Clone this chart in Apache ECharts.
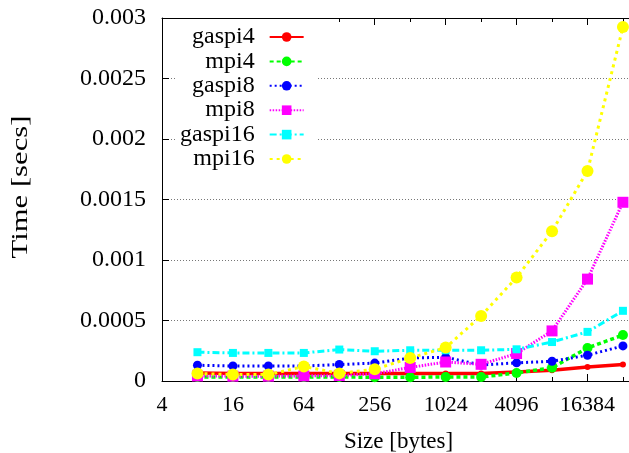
<!DOCTYPE html>
<html><head><meta charset="utf-8">
<script src="https://cdn.jsdelivr.net/npm/echarts@6/dist/echarts.min.js"></script>
<style>html,body{margin:0;padding:0;background:#fff}#c{width:629px;height:453px}</style>
</head><body><div id="c"></div>
<script>
// ---- data ----
const sizes = [8, 16, 32, 64, 128, 256, 512, 1024, 2048, 4096, 8192, 16384, 32768];
const xMajorTicks = [4, 16, 64, 256, 1024, 4096, 16384];
const xMinorTicks = [4, 8, 16, 32, 64, 128, 256, 512, 1024, 2048, 4096, 8192, 16384, 32768];
const seriesNames = ['gaspi4', 'mpi4', 'gaspi8', 'mpi8', 'gaspi16', 'mpi16'];
const gaspi4  = [0.000066, 0.000063, 0.000063, 0.000063, 0.000061, 0.000061, 0.000061, 0.000061, 0.000061, 0.000075, 0.000089, 0.000116, 0.000136];
const mpi4    = [0.000033, 0.000033, 0.000033, 0.000033, 0.000033, 0.000031, 0.000031, 0.000033, 0.000033, 0.000066, 0.000110, 0.000273, 0.000380];
const gaspi8  = [0.000130, 0.000124, 0.000124, 0.000124, 0.000136, 0.000148, 0.000190, 0.000196, 0.000132, 0.000150, 0.000163, 0.000213, 0.000290];
const mpi8    = [0.000042, 0.000040, 0.000040, 0.000042, 0.000045, 0.000060, 0.000112, 0.000157, 0.000138, 0.000227, 0.000414, 0.000842, 0.001477];
const gaspi16 = [0.000238, 0.000232, 0.000232, 0.000232, 0.000260, 0.000246, 0.000254, 0.000254, 0.000254, 0.000262, 0.000322, 0.000406, 0.000580];
const mpi16   = [0.000062, 0.000053, 0.000053, 0.000120, 0.000063, 0.000097, 0.000190, 0.000276, 0.000538, 0.000856, 0.001237, 0.001736, 0.002926];

const FONT = '"Liberation Serif", "DejaVu Serif", serif';
const colors = ['#ff0000', '#00ff00', '#0000ff', '#ff00ff', '#00ffff', '#ffff00'];
const values = [gaspi4, mpi4, gaspi8, mpi8, gaspi16, mpi16];
const symbols = ['circle', 'circle', 'circle', 'rect', 'rect', 'circle'];
const symbolSizes = [6, 10, 9, 11, 8, 12];
const dashes = ['solid', [4, 3], [2, 3], [1.5, 1.5], [7, 3, 2, 3], [3, 4]];
const widths = [3.5, 3.5, 3, 3, 3, 3];
const X_MAX = Math.pow(2, 15.34); // plot area runs past the right edge of the picture

const chart = echarts.init(document.getElementById('c'), null, {renderer: 'canvas'});

function xAxisBase(pos, ticks, len, withLabels, showLine) {
  return {
    type: 'log', logBase: 2, min: 4, max: X_MAX, position: pos,
    axisLine: {show: showLine, onZero: false, lineStyle: {color: '#000', width: 1}},
    axisTick: {show: true, inside: true, length: len, customValues: ticks, lineStyle: {color: '#000', width: 1}},
    axisLabel: withLabels ? {show: true, customValues: xMajorTicks, fontFamily: FONT, fontSize: 22, color: '#000', margin: 13, formatter: v => String(v)} : {show: false},
    splitLine: {show: false}, minorTick: {show: false}
  };
}
const xAxes = [
  Object.assign(xAxisBase('bottom', xMajorTicks, 7, true, true), {
    name: 'Size [bytes]', nameLocation: 'middle', nameGap: 49,
    nameTextStyle: {fontFamily: FONT, fontSize: 23, color: '#000'}
  }),
  xAxisBase('top', xMajorTicks, 7, false, true),
  xAxisBase('bottom', xMinorTicks, 4, false, false),
  xAxisBase('top', xMinorTicks, 4, false, false)
];

const series = seriesNames.map((name, i) => ({
  name: name, type: 'line', xAxisIndex: 0, yAxisIndex: 0,
  data: sizes.map((s, j) => [s, values[i][j]]),
  symbol: symbols[i], symbolSize: symbolSizes[i], showSymbol: true,
  lineStyle: {color: colors[i], width: widths[i], type: dashes[i]},
  itemStyle: {color: colors[i]},
  z: 2 + i, animation: false
}));

chart.setOption({
  animation: false,
  backgroundColor: '#fff',
  grid: {left: 162, right: -6, top: 18, bottom: 72, containLabel: false, outerBoundsMode: 'none'},
  legend: {
    orient: 'vertical', left: 175, top: 19, align: 'right',
    itemWidth: 34, itemHeight: 12, itemGap: 0.4,
    backgroundColor: '#fff', padding: [6, 13, 6, 5],
    textStyle: {fontFamily: FONT, fontSize: 24, color: '#000', lineHeight: 24, padding: [0, 10, 0, 0]},
    data: seriesNames
  },
  graphic: [{
    type: 'text', x: 21, y: 187, rotation: Math.PI / 2, scaleX: 1.28, scaleY: 1,
    style: {text: 'Time [secs]', font: '24px "Liberation Serif", serif', fill: '#000', align: 'center', verticalAlign: 'middle'}
  }],
  xAxis: xAxes,
  yAxis: [
    {
      type: 'value', min: 0, max: 0.003, interval: 0.0005, position: 'left',
      axisLine: {show: true, lineStyle: {color: '#000', width: 1}},
      axisTick: {show: true, inside: true, length: 7, lineStyle: {color: '#000'}},
      axisLabel: {fontFamily: FONT, fontSize: 24, color: '#000', margin: 16},
      splitLine: {show: true, lineStyle: {color: '#777', width: 1, type: [1, 2]}}
    }
  ],
  series: series
});
</script>
</body></html>
